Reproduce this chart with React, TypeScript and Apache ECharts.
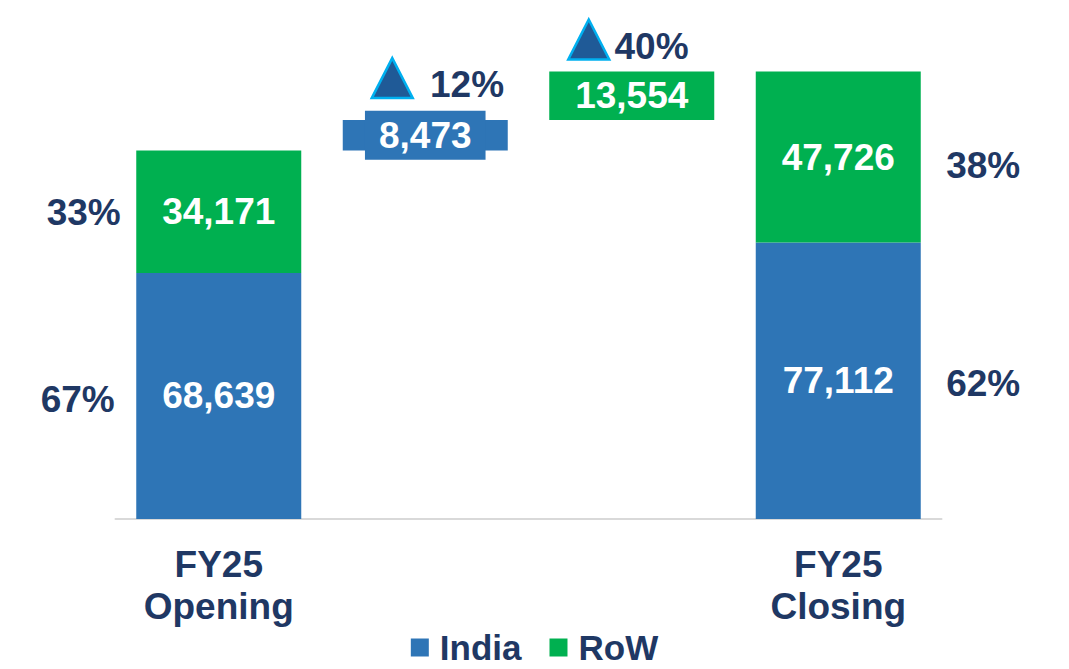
import React, { useEffect, useRef } from "react";
import * as echarts from "echarts";

const categories = ["opening", "india", "row", "closing"];
const categoryLabels = ["FY25\nOpening", "", "", "FY25\nClosing"];
const indiaValues: (number | null)[] = [68639, 8473, null, 77112];
const rowValues: (number | null)[] = [34171, null, 13554, 47726];
const legendNames = ["India", "RoW"];

const NAVY = "#1f3864";
const BLUE = "#2e75b6";
const GREEN = "#00b050";
const FONT = "'Liberation Sans', Arial, sans-serif";
const FS = 37;

const fmt = (v: number) => v.toLocaleString("en-US");
const pct = (part: number, whole: number) => Math.round((part / whole) * 100) + "%";

export default function App() {
  const ref = useRef<HTMLDivElement>(null);
  useEffect(() => {
    document.body.style.margin = "0";
    if (!ref.current) return;
    const chart = echarts.init(ref.current, null, { renderer: "svg" });

    const openTotal = (indiaValues[0] as number) + (rowValues[0] as number);
    const closeTotal = (indiaValues[3] as number) + (rowValues[3] as number);
    const base = [0, openTotal, openTotal + (indiaValues[1] as number), 0];
    const indiaTop = base[1] + (indiaValues[1] as number);
    const rowTop = base[2] + (rowValues[2] as number);

    const valueLabel = {
      show: true,
      position: "inside",
      color: "#fff",
      fontSize: FS,
      fontWeight: "bold",
      fontFamily: FONT,
      formatter: (p: any) => fmt(p.value),
    };

    const pctLabel = (offset: number[]) => ({
      show: true,
      position: "inside",
      color: NAVY,
      fontSize: FS,
      fontWeight: "bold",
      fontFamily: FONT,
      offset,
      formatter: (p: any) => p.data.text,
    });

    const growthLabel = (distance: number, offset: number[]) => ({
      show: true,
      position: "right",
      distance,
      offset,
      color: NAVY,
      fontSize: FS,
      fontWeight: "bold",
      fontFamily: FONT,
      formatter: (p: any) => p.data.text,
    });

    const option: any = {
      animation: false,
      grid: { left: 115.5, right: 127.5, top: 53, bottom: 150 },
      legend: {
        data: legendNames,
        top: 625,
        left: "center",
        icon: "rect",
        itemWidth: 18,
        itemHeight: 18,
        itemGap: 28,
        textStyle: {
          color: NAVY,
          fontSize: 35,
          fontWeight: "bold",
          fontFamily: FONT,
          lineHeight: 30,
          padding: [0, 0, 0, 6],
        },
        selectedMode: false,
      },
      xAxis: {
        type: "category",
        data: categories,
        axisLine: { lineStyle: { color: "#d9d9d9", width: 2 } },
        axisTick: { show: false },
        axisLabel: {
          formatter: (_v: string, i: number) => categoryLabels[i],
          color: NAVY,
          fontSize: FS,
          fontWeight: "bold",
          fontFamily: FONT,
          lineHeight: 42,
          margin: 24,
          interval: 0,
        },
      },
      yAxis: { type: "value", min: 0, max: 130000, show: false, splitLine: { show: false } },
      series: [
        {
          name: "base",
          type: "bar",
          stack: "total",
          barWidth: 165,
          itemStyle: { color: "transparent" },
          data: base,
          silent: true,
        },
        {
          name: "India",
          type: "bar",
          stack: "total",
          barWidth: 165,
          itemStyle: { color: BLUE },
          data: indiaValues.map((v, i) =>
            i === 1
              ? {
                  value: v,
                  label: {
                    ...valueLabel,
                    backgroundColor: BLUE,
                    padding: [6, 14],
                  },
                }
              : v == null
              ? "-"
              : v
          ),
          label: valueLabel,
        },
        {
          name: "RoW",
          type: "bar",
          stack: "total",
          barWidth: 165,
          itemStyle: { color: GREEN },
          data: rowValues.map((v) => (v == null ? "-" : v)),
          label: valueLabel,
        },
        {
          name: "share",
          type: "scatter",
          symbol: "circle",
          symbolSize: 1,
          itemStyle: { color: "transparent", opacity: 1 },
          clip: false,
          silent: true,
          data: [
            { value: [0, (indiaValues[0] as number) / 2], text: pct(indiaValues[0] as number, openTotal), label: pctLabel([-141, 4]) },
            { value: [0, (indiaValues[0] as number) + (rowValues[0] as number) / 2], text: pct(rowValues[0] as number, openTotal), label: pctLabel([-135, 1]) },
            { value: [3, (indiaValues[3] as number) / 2], text: pct(indiaValues[3] as number, closeTotal), label: pctLabel([145, 3]) },
            { value: [3, (indiaValues[3] as number) + (rowValues[3] as number) / 2], text: pct(rowValues[3] as number, closeTotal), label: pctLabel([145, 8]) },
          ],
        },
        {
          name: "growth",
          type: "scatter",
          symbol: "triangle",
          clip: false,
          silent: true,
          symbolSize: [41, 40],
          itemStyle: { color: "#1f5a97", borderColor: "#00b0f0", borderWidth: 2.5, opacity: 1 },
          data: [
            {
              value: [1, indiaTop],
              symbolOffset: [-33, -42],
              text: pct(indiaValues[1] as number, indiaValues[0] as number),
              label: growthLabel(16, [0, 6]),
            },
            {
              value: [2, rowTop],
              symbolOffset: [-43, -32],
              text: pct(rowValues[2] as number, rowValues[0] as number),
              label: growthLabel(4, [0, 7]),
            },
          ],
        },
      ],
    };
    chart.setOption(option);
    return () => chart.dispose();
  }, []);
  return <div ref={ref} style={{ width: 1069, height: 669 }} />;
}
